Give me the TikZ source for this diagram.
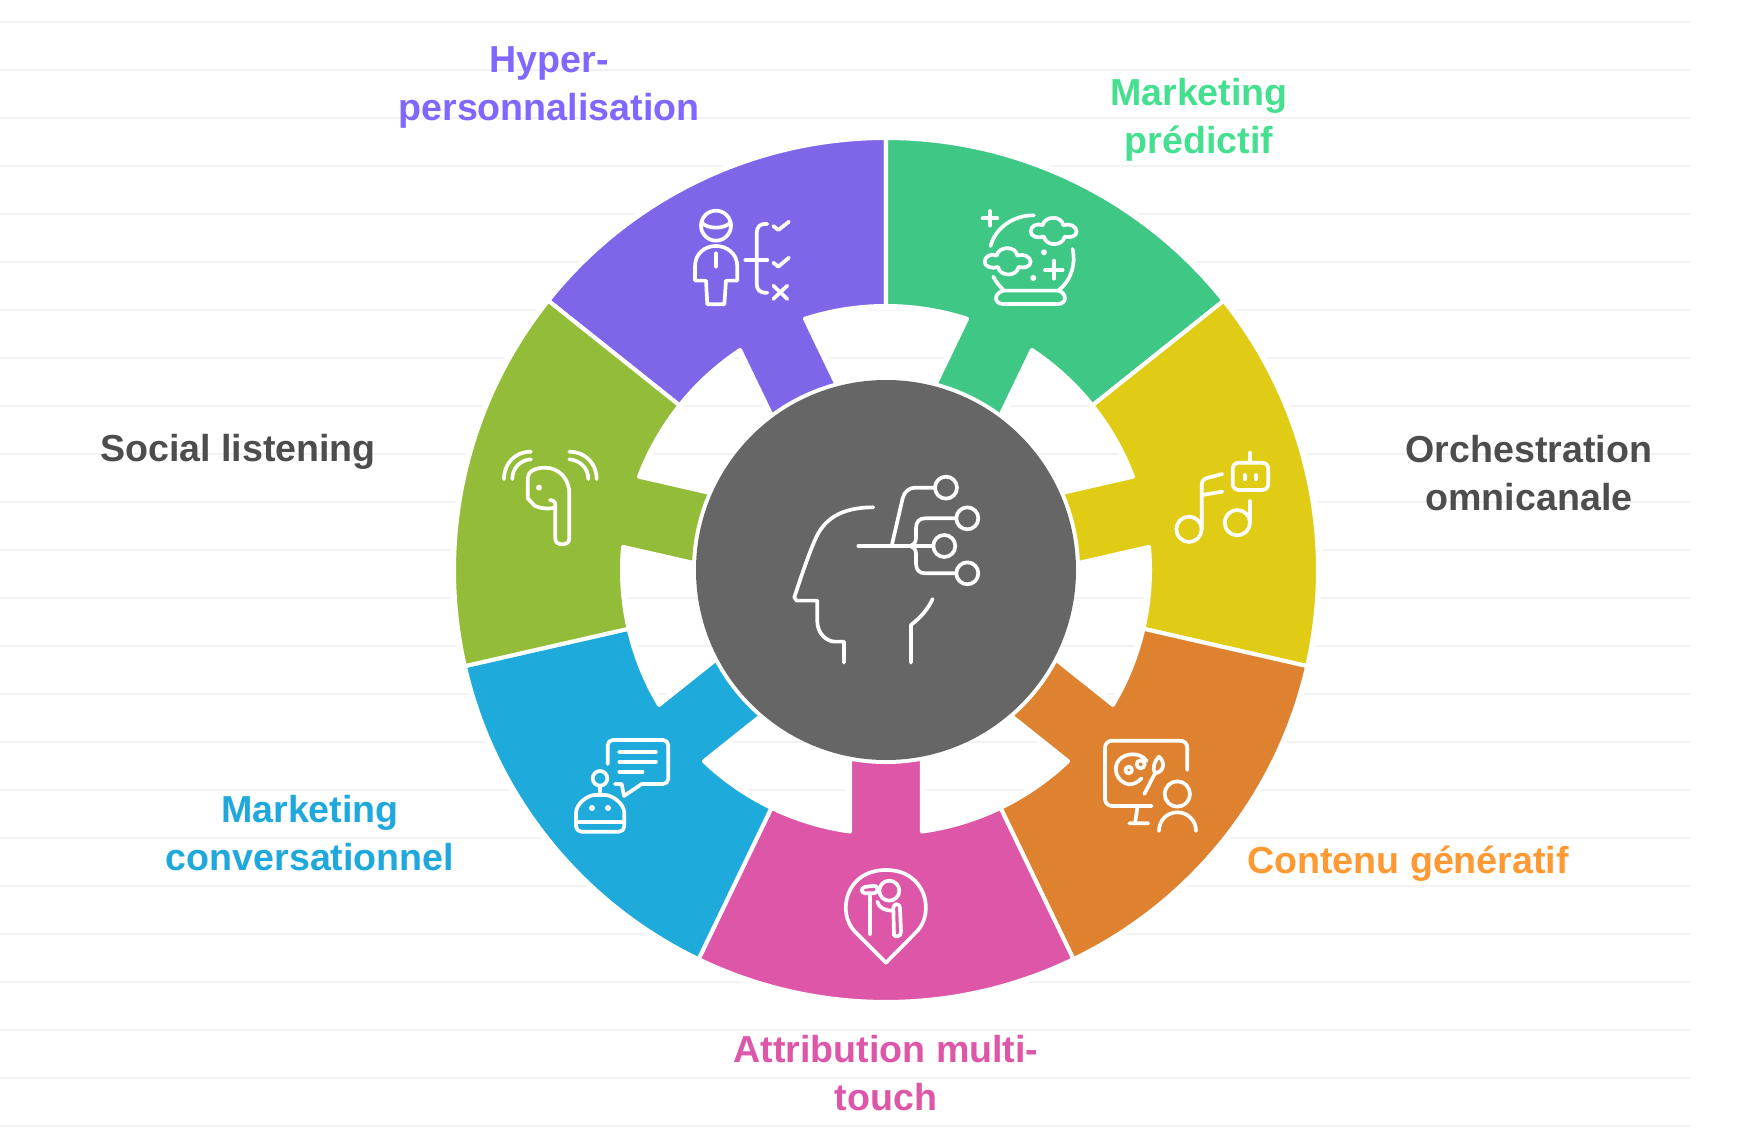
\documentclass[tikz,border=0pt]{standalone}
\usepackage{xcolor}
\usepackage{fontspec}
\setmainfont{Liberation Sans}
\usepackage{tikz}
\usetikzlibrary{calc}

\definecolor{purplefill}{HTML}{7F66E8}
\definecolor{greenfill}{HTML}{3FC785}
\definecolor{yellowfill}{HTML}{E0CC14}
\definecolor{orangefill}{HTML}{DE8230}
\definecolor{pinkfill}{HTML}{DD56A7}
\definecolor{bluefill}{HTML}{1EABDC}
\definecolor{olivefill}{HTML}{93BC38}
\definecolor{centerfill}{HTML}{666666}
\definecolor{gridline}{HTML}{F2F2F2}
\definecolor{purpletext}{HTML}{8166FF}
\definecolor{greentext}{HTML}{45E08F}
\definecolor{orangetext}{HTML}{FF9933}
\definecolor{bluetext}{HTML}{1EA8DC}
\definecolor{greytext}{HTML}{4D4D4D}

\tikzset{
  label/.style={font=\bfseries\fontsize{21.4}{27.3}\selectfont,align=center,inner sep=0pt},
  iconline/.style={draw=white,line width=2.1pt,line cap=round,line join=round},
  iconat/.style 2 args={shift={(#1-886,570-#2)},xscale=0.3333,yscale=-0.3333},
  cloudicon/.pic={
    \draw[iconline] (-68,2) .. controls (-68,-14) and (-48,-24) .. (-32,-16)
      .. controls (-26,-46) and (26,-46) .. (30,-16)
      .. controls (48,-24) and (70,-12) .. (70,2)
      .. controls (70,18) and (50,22) .. (34,18)
      .. controls (28,48) and (-22,48) .. (-28,18)
      .. controls (-46,24) and (-68,18) .. (-68,2) -- cycle;
  }
}

\newcommand{\ringpiece}[2]{
  \pgfmathsetmacro{\ls}{#1-25.714}
  \pgfmathsetmacro{\le}{#1+25.714}
  \pgfmathsetmacro{\ns}{#1-7.84}
  \pgfmathsetmacro{\ne}{#1+7.84}
  \pgfmathsetmacro{\ms}{#1-10.8}
  \pgfmathsetmacro{\me}{#1+10.8}
  \draw[#2]
    (\ls:432) arc[start angle=\ls,end angle=\le,radius=432]
    -- (\le:264) arc[start angle=\le,end angle=\ne,radius=264]
    -- (\me:192) arc[start angle=\me,end angle=\ms,radius=192]
    -- (\ns:264) arc[start angle=\ns,end angle=\ls,radius=264]
    -- cycle;
}

\begin{document}
\begin{tikzpicture}[x=0.02cm,y=0.02cm]
\useasboundingbox (-886,-566) rectangle (854,570);

% background lines
\foreach \i in {0,...,23}
  \draw[gridline,line width=1.1pt] (-886,{548-48*\i}) -- (804,{548-48*\i});

% ring
\foreach \a in {115.714,64.286,12.857,-38.571,-90,-141.429,-192.857}
  \ringpiece{\a}{white,line width=4.6pt};
\foreach \a/\col in {115.714/purplefill,64.286/greenfill,12.857/yellowfill,
                     -38.571/orangefill,-90/pinkfill,-141.429/bluefill,-192.857/olivefill}
  \ringpiece{\a}{fill=\col,draw=white,line width=2.3pt,line join=round};
\fill[centerfill] (0,0) circle[radius=190];

% labels
\node[label,purpletext] (hyper) at (549-886,570-87) {Hyper-\\personnalisation};
\node[label,greentext] (predictif) at (1199-886,570-120) {Marketing\\prédictif};
\node[label,greytext] (orchestration) at (1529-886,570-473) {Orchestration\\omnicanale};
\node[label,orangetext] (generatif) at (1408-886,570-864) {Contenu génératif};
\node[label,pinkfill] (attribution) at (886-886,570-1073) {Attribution multi-\\touch};
\node[label,bluetext] (conversationnel) at (310-886,570-833) {Marketing\\conversationnel};
\node[label,greytext] (social) at (238-886,570-452) {Social listening};

% centre icon
\begin{scope}[iconat={760}{440}]
\draw[iconline] (340,202) .. controls (240,202) and (190,240) .. (165,300)
  .. controls (145,345) and (120,420) .. (103,472) -- (110,482) -- (172,482) -- (172,545)
  .. controls (172,580) and (200,605) .. (225,605) -- (252,605) -- (252,668);
\draw[iconline] (518,477) .. controls (505,505) and (485,530) .. (453,555) -- (453,668);
\draw[iconline] (295,318) -- (520,318);
\draw[iconline] (395,318) -- (428,175) .. controls (433,155) and (448,143) .. (465,143) -- (525,143);
\draw[iconline] (448,318) .. controls (460,316) and (468,308) .. (468,295) -- (468,265)
  .. controls (468,245) and (478,235) .. (495,235) -- (588,235);
\draw[iconline] (448,318) .. controls (460,320) and (468,328) .. (468,340) -- (468,370)
  .. controls (468,390) and (478,400) .. (495,400) -- (588,400);
\draw[iconline] (558,143) circle[radius=33];
\draw[iconline] (622,235) circle[radius=33];
\draw[iconline] (553,318) circle[radius=33];
\draw[iconline] (622,400) circle[radius=33];
\end{scope}

% purple and green icons
\begin{scope}[iconat={660}{120}]
\draw[iconline] (168,317) circle[radius=45];
\draw[iconline] (125,308) .. controls (145,328) and (190,328) .. (212,308);
\draw[iconline] (105,482) -- (105,440) .. controls (105,400) and (135,378) .. (168,378)
  .. controls (200,378) and (232,400) .. (232,440) -- (232,482) -- (198,482) -- (193,553)
  -- (142,553) -- (138,482) -- cycle;
\draw[iconline] (168,400) -- (168,440);
\draw[iconline] (322,312) .. controls (300,310) and (290,320) .. (290,340) -- (290,490)
  .. controls (290,510) and (300,520) .. (322,518);
\draw[iconline] (256,420) -- (322,420);
\draw[iconline] (340,318) -- (355,330) -- (387,305);
\draw[iconline] (340,428) -- (355,440) -- (387,413);
\draw[iconline] (340,497) -- (382,537) (382,497) -- (340,537);

\draw[iconline] (968,295) -- (1012,295) (990,273) -- (990,317);
\draw[iconline] (992,378) .. controls (1005,325) and (1060,285) .. (1122,286);
\pic[transform shape] at (1180,332) {cloudicon};
\pic[transform shape] at (1042,423) {cloudicon};
\fill[white] (1152,397) circle[radius=9];
\fill[white] (1120,474) circle[radius=9];
\draw[iconline] (1155,450) -- (1208,450) (1182,422) -- (1182,476);
\draw[iconline] (1238,387) .. controls (1248,430) and (1235,480) .. (1197,510);
\draw[iconline] (1000,470) .. controls (1008,485) and (1018,498) .. (1030,510);
\draw[iconline] (1030,512) -- (1195,512) .. controls (1208,515) and (1215,525) .. (1215,535)
  .. controls (1215,545) and (1205,552) .. (1195,552) -- (1030,552)
  .. controls (1018,552) and (1008,545) .. (1008,535) .. controls (1008,525) and (1018,515) .. (1030,512) -- cycle;
\end{scope}

% yellow icon
\begin{scope}[iconat={1140}{430}]
\draw[iconline] (147,298) circle[radius=38];
\draw[iconline] (185,298) -- (185,165) .. controls (185,150) and (195,145) .. (205,143) -- (247,132);
\draw[iconline] (187,195) -- (247,185);
\draw[iconline] (292,278) circle[radius=38];
\draw[iconline] (330,278) -- (330,213);
\draw[iconline,rounded corners=3.5pt] (278,98) rectangle (385,180);
\draw[iconline] (330,68) -- (330,98);
\draw[iconline] (314,135) -- (314,148) (347,135) -- (347,148);
\end{scope}

% olive icon
\begin{scope}[iconat={480}{430}]
\draw[iconline] (72,147) .. controls (72,100) and (105,65) .. (153,65);
\draw[iconline] (97,147) .. controls (97,115) and (120,90) .. (153,88);
\draw[iconline] (268,65) .. controls (315,65) and (350,100) .. (350,147);
\draw[iconline] (268,88) .. controls (300,90) and (325,115) .. (325,147);
\draw[iconline] (143,205) -- (143,145) .. controls (143,125) and (165,113) .. (195,113)
  .. controls (240,113) and (268,150) .. (268,190) -- (268,325)
  .. controls (268,338) and (258,343) .. (247,343) .. controls (235,343) and (226,338) .. (226,325)
  -- (226,225) .. controls (226,215) and (218,208) .. (210,210);
\draw[iconline] (143,205) -- (165,228) .. controls (185,237) and (210,237) .. (226,233);
\fill[white] (177,173) circle[radius=9];
\end{scope}

% blue icon
\begin{scope}[iconat={560}{720}]
\draw[iconline,rounded corners=3pt] (143,132) -- (143,60) -- (325,60) -- (325,192) -- (245,192);
\draw[iconline] (245,192) -- (192,228) -- (185,192) -- (165,192);
\draw[iconline] (178,96) -- (288,96) (178,125) -- (288,125) (178,155) -- (248,155);
\draw[iconline] (120,175) circle[radius=22];
\draw[iconline] (120,197) -- (120,225);
\draw[iconline,rounded corners=3pt] (48,335) -- (48,295) .. controls (48,250) and (85,225) .. (120,225)
  .. controls (155,225) and (193,250) .. (193,295) -- (193,335) -- cycle;
\draw[iconline] (48,305) -- (193,305);
\fill[white] (96,264) circle[radius=9];
\fill[white] (144,264) circle[radius=9];
\end{scope}

% pink icon
\begin{scope}[iconat={820}{850}]
\draw[iconline] (198,338) -- (105,245) .. controls (50,190) and (75,60) .. (198,60)
  .. controls (320,60) and (345,190) .. (290,245) -- cycle;
\draw[iconline] (208,122) circle[radius=30];
\draw[iconline,rounded corners=2pt] (125,112) -- (172,106) -- (172,130) -- (125,130) -- cycle;
\draw[iconline] (150,130) -- (150,252);
\draw[iconline] (172,155) .. controls (178,175) and (195,182) .. (220,182);
\draw[iconline] (222,255) -- (220,175) .. controls (218,162) and (238,155) .. (240,175) -- (243,245)
  .. controls (244,262) and (224,262) .. (222,255) -- cycle;
\end{scope}

% orange icon
\begin{scope}[iconat={1090}{725}]
\draw[iconline,rounded corners=4pt] (292,135) -- (292,47) -- (45,47) -- (45,243) -- (185,243);
\draw[iconline] (143,243) -- (135,295) (118,295) -- (175,295);
\draw[iconline] (155,160) .. controls (145,170) and (130,180) .. (115,178)
  .. controls (90,172) and (75,150) .. (78,125) .. controls (82,95) and (120,80) .. (150,92)
  .. controls (158,95) and (165,100) .. (170,108);
\draw[iconline] (116,135) circle[radius=10];
\draw[iconline] (152,118) circle[radius=12];
\draw[iconline] (163,207) -- (195,145);
\draw[iconline] (207,95) .. controls (225,110) and (225,140) .. (195,145)
  .. controls (185,130) and (195,105) .. (207,95) -- cycle;
\draw[iconline] (262,207) circle[radius=38];
\draw[iconline] (207,318) .. controls (207,285) and (232,262) .. (262,262)
  .. controls (292,262) and (318,285) .. (318,318);
\end{scope}
\end{tikzpicture}
\end{document}
